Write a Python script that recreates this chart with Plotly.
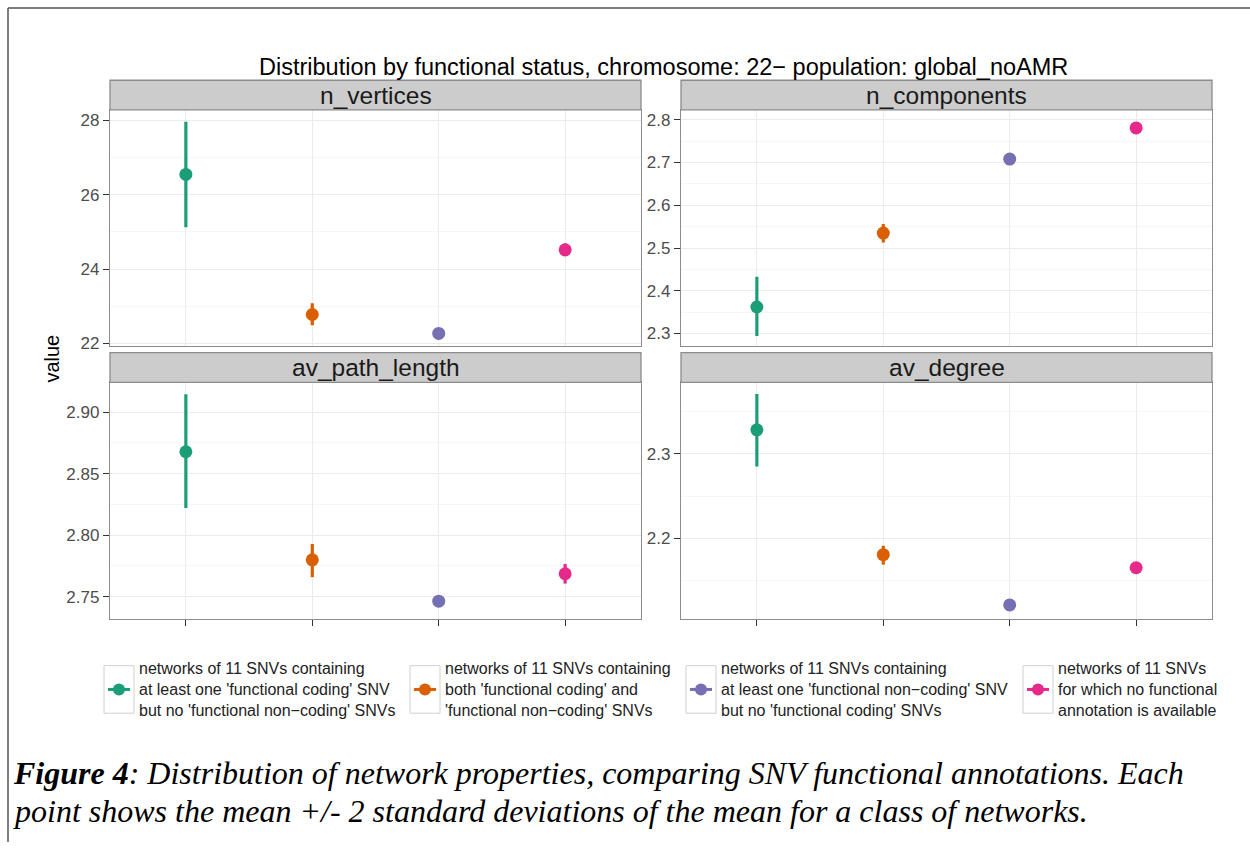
import plotly.graph_objects as go

# ---------------- data ----------------
classes = ["coding_only", "coding_and_noncoding", "noncoding_only", "no_annotation"]
class_colors = ["#1B9E77", "#D95F02", "#7570B3", "#E7298A"]
legend_lines = [
    ["networks of 11 SNVs containing", "at least one 'functional coding' SNV", "but no 'functional non\u2212coding' SNVs"],
    ["networks of 11 SNVs containing", "both 'functional coding' and", "'functional non\u2212coding' SNVs"],
    ["networks of 11 SNVs containing", "at least one 'functional non\u2212coding' SNV", "but no 'functional coding' SNVs"],
    ["networks of 11 SNVs", "for which no functional", "annotation is available"],
]

n_vertices_mean = [26.55, 22.78, 22.27, 24.52]
n_vertices_lo = [25.13, 22.49, 22.19, 24.35]
n_vertices_hi = [27.97, 23.08, 22.35, 24.69]
n_vertices_ticks = [22, 24, 26, 28]
n_vertices_ticklabels = ["22", "24", "26", "28"]
n_vertices_minor = [23, 25, 27]

n_components_mean = [2.362, 2.535, 2.708, 2.781]
n_components_lo = [2.294, 2.513, 2.703, 2.776]
n_components_hi = [2.433, 2.556, 2.713, 2.786]
n_components_ticks = [2.3, 2.4, 2.5, 2.6, 2.7, 2.8]
n_components_ticklabels = ["2.3", "2.4", "2.5", "2.6", "2.7", "2.8"]
n_components_minor = [2.35, 2.45, 2.55, 2.65, 2.75]

av_path_length_mean = [2.8678, 2.7799, 2.7463, 2.7686]
av_path_length_lo = [2.8220, 2.7658, 2.7443, 2.7606]
av_path_length_hi = [2.9145, 2.7928, 2.7483, 2.7766]
av_path_length_ticks = [2.75, 2.80, 2.85, 2.90]
av_path_length_ticklabels = ["2.75", "2.80", "2.85", "2.90"]
av_path_length_minor = [2.775, 2.825, 2.875]

av_degree_mean = [2.3286, 2.1804, 2.1208, 2.1649]
av_degree_lo = [2.2850, 2.1686, 2.1178, 2.1609]
av_degree_hi = [2.3713, 2.1910, 2.1238, 2.1689]
av_degree_ticks = [2.2, 2.3]
av_degree_ticklabels = ["2.2", "2.3"]
av_degree_minor = [2.15, 2.25, 2.35]

title_text = "Distribution by functional status, chromosome: 22\u2212 population: global_noAMR"
caption_line1 = "<b><i>Figure 4</i></b><i>: Distribution of network properties, comparing SNV functional annotations. Each</i>"
caption_line2 = "<i>point shows the mean +/- 2 standard deviations of the mean for a class of networks.</i>"

# ---------------- layout helpers ----------------
W, H = 1250, 850
SANS = "Liberation Sans"
SERIF = "Liberation Serif"


def px(xp):
    return xp / W


def py(yp):
    return 1 - yp / H


panels = [
    dict(name="n_vertices", mean=n_vertices_mean, lo=n_vertices_lo, hi=n_vertices_hi,
         ticks=n_vertices_ticks, labels=n_vertices_ticklabels, minor=n_vertices_minor,
         x0=110, x1=641, y0=111, y1=349, yr=[21.939, 28.285], bottom=False),
    dict(name="n_components", mean=n_components_mean, lo=n_components_lo, hi=n_components_hi,
         ticks=n_components_ticks, labels=n_components_ticklabels, minor=n_components_minor,
         x0=681, x1=1212, y0=111, y1=349, yr=[2.2715, 2.823], bottom=False),
    dict(name="av_path_length", mean=av_path_length_mean, lo=av_path_length_lo, hi=av_path_length_hi,
         ticks=av_path_length_ticks, labels=av_path_length_ticklabels, minor=av_path_length_minor,
         x0=110, x1=641, y0=386, y1=625, yr=[2.7317, 2.9242], bottom=True),
    dict(name="av_degree", mean=av_degree_mean, lo=av_degree_lo, hi=av_degree_hi,
         ticks=av_degree_ticks, labels=av_degree_ticklabels, minor=av_degree_minor,
         x0=681, x1=1212, y0=386, y1=625, yr=[2.1039, 2.385], bottom=True),
]

fig = go.Figure()
shapes = []
annotations = []
layout = {}

cat_pos = [i + 1 for i in range(len(classes))]

for k, p in enumerate(panels):
    idx = "" if k == 0 else str(k + 1)
    xid, yid = "x" + idx, "y" + idx
    for ci, cname in enumerate(classes):
        m = p["mean"][ci]
        fig.add_trace(go.Scatter(
            x=[cat_pos[ci]], y=[m], xaxis=xid, yaxis=yid, mode="markers",
            name=cname, showlegend=False,
            marker=dict(size=13, color=class_colors[ci], line=dict(width=0)),
            error_y=dict(type="data", symmetric=False,
                         array=[p["hi"][ci] - m], arrayminus=[m - p["lo"][ci]],
                         color=class_colors[ci], thickness=3.2, width=0),
            hoverinfo="x+y",
        ))
    layout["xaxis" + idx] = dict(
        domain=[px(p["x0"]), px(p["x1"])], range=[0.4, 4.6], anchor=yid,
        tickmode="array", tickvals=cat_pos, showticklabels=False,
        ticks="outside" if p["bottom"] else "", ticklen=6, tickwidth=1, tickcolor="#333333",
        showgrid=True, gridcolor="#EBEBEB", gridwidth=1, zeroline=False,
        showline=True, mirror=True, linecolor="#8C8C8C", linewidth=1.3, fixedrange=True,
    )
    layout["yaxis" + idx] = dict(
        domain=[py(p["y1"]), py(p["y0"])], range=p["yr"], anchor=xid,
        tickmode="array", tickvals=p["ticks"], ticktext=p["labels"],
        ticks="outside", ticklen=6, tickwidth=1, tickcolor="#333333",
        tickfont=dict(family=SANS, size=17, color="#4D4D4D"),
        showgrid=True, gridcolor="#EBEBEB", gridwidth=1, zeroline=False,
        showline=True, mirror=True, linecolor="#8C8C8C", linewidth=1.3,
        minor=dict(tickvals=p["minor"], showgrid=True, gridcolor="#F6F6F6", gridwidth=1, ticks=""),
        fixedrange=True,
    )
    # facet strip
    shapes.append(dict(type="rect", xref="paper", yref="paper",
                       x0=px(p["x0"]), x1=px(p["x1"]), y0=py(p["y0"]), y1=py(p["y0"] - 30),
                       fillcolor="#CCCCCC", line=dict(color="#8C8C8C", width=1.3), layer="above"))
    annotations.append(dict(xref="paper", yref="paper", x=px((p["x0"] + p["x1"]) / 2),
                            y=py(p["y0"] - 15), text=p["name"], showarrow=False,
                            xanchor="center", yanchor="middle",
                            font=dict(family=SANS, size=24.5, color="#1A1A1A")))

# title
annotations.append(dict(xref="paper", yref="paper", x=px(663), y=py(68), text=title_text,
                        showarrow=False, xanchor="center", yanchor="middle",
                        font=dict(family=SANS, size=23.5, color="#000000")))
# y axis title
annotations.append(dict(xref="paper", yref="paper", x=px(52), y=py(362), text="value",
                        showarrow=False, textangle=-90, xanchor="center", yanchor="middle",
                        font=dict(family=SANS, size=20, color="#000000")))

# legend (custom, below panels)
legend_text_x = [137, 443, 719, 1056]
for ci in range(len(classes)):
    tx = legend_text_x[ci]
    bx0, bx1 = tx - 33, tx - 3
    shapes.append(dict(type="rect", xref="paper", yref="paper",
                       x0=px(bx0), x1=px(bx1), y0=py(720), y1=py(672),
                       fillcolor="#FFFFFF", line=dict(color="#D0D0D0", width=1)))
    cx = (bx0 + bx1) / 2
    shapes.append(dict(type="line", xref="paper", yref="paper",
                       x0=px(cx - 11), x1=px(cx + 11), y0=py(696), y1=py(696),
                       line=dict(color=class_colors[ci], width=3)))
    shapes.append(dict(type="circle", xref="paper", yref="paper",
                       x0=px(cx - 6), x1=px(cx + 6), y0=py(702), y1=py(690),
                       fillcolor=class_colors[ci], line=dict(width=0)))
    annotations.append(dict(xref="paper", yref="paper", x=px(tx), y=py(696),
                            text="<br>".join(legend_lines[ci]), showarrow=False,
                            xanchor="left", yanchor="middle", align="left",
                            font=dict(family=SANS, size=16, color="#222222")))

# caption
annotations.append(dict(xref="paper", yref="paper", x=px(11), y=py(780), text=caption_line1,
                        showarrow=False, xanchor="left", yanchor="middle",
                        font=dict(family=SERIF, size=32, color="#000000")))
annotations.append(dict(xref="paper", yref="paper", x=px(11), y=py(819), text=caption_line2,
                        showarrow=False, xanchor="left", yanchor="middle",
                        font=dict(family=SERIF, size=32, color="#000000")))

# outer frame (top and left edges)
shapes.append(dict(type="line", xref="paper", yref="paper", x0=px(8), x1=1, y0=py(8), y1=py(8),
                   line=dict(color="#555555", width=1.5)))
shapes.append(dict(type="line", xref="paper", yref="paper", x0=px(8), x1=px(8), y0=py(8), y1=0,
                   line=dict(color="#555555", width=1.5)))

fig.update_layout(
    width=W, height=H, margin=dict(l=0, r=0, t=0, b=0),
    paper_bgcolor="#FFFFFF", plot_bgcolor="#FFFFFF",
    showlegend=False, shapes=shapes, annotations=annotations, **layout,
)

fig.write_html("out.html")
